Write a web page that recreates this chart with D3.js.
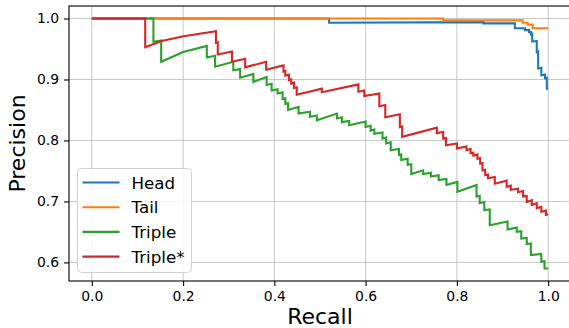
<!DOCTYPE html>
<html>
<head>
<meta charset="utf-8">
<script src="https://cdn.jsdelivr.net/npm/d3@7"></script>
<style>
  html, body { margin: 0; padding: 0; background: #fff; }
  svg { display: block; font-family: "DejaVu Sans", sans-serif; }
</style>
</head>
<body>
<div id="chart"></div>
<script>
// Precision-recall curves, values
const seriesNames = ["Head", "Tail", "Triple", "Triple*"];
const seriesColors = ["#1f77b4", "#ff7f0e", "#2ca02c", "#d62728"];

const headRecall = [0, 0.520, 0.520, 0.858, 0.858, 0.927, 0.927, 0.949, 0.949, 0.958, 0.958, 0.962, 0.962, 0.965, 0.965,
  0.975, 0.975, 0.978, 0.978, 0.985, 0.985, 0.993, 0.993, 0.997, 0.997, 1.0];
const headPrecision = [1.0, 1.0, 0.993, 0.994, 0.992, 0.992, 0.984, 0.984, 0.981, 0.981, 0.978, 0.978, 0.974, 0.975, 0.962,
  0.963, 0.945, 0.946, 0.918, 0.919, 0.907, 0.908, 0.902, 0.903, 0.885, 0.885];

const tailRecall = [0, 0.770, 0.770, 0.944, 0.944, 0.955, 0.955, 0.966, 0.966, 1.0];
const tailPrecision = [1.0, 1.0, 0.997, 0.997, 0.993, 0.993, 0.990, 0.990, 0.984, 0.984];

const tripleRecall = [0, 0.135, 0.135, 0.152, 0.152, 0.200, 0.252, 0.252, 0.270, 0.270, 0.310, 0.310, 0.325, 0.325,
  0.354, 0.354, 0.383, 0.383, 0.394, 0.394, 0.407, 0.407, 0.418, 0.418, 0.424, 0.424, 0.430, 0.430, 0.453, 0.453,
  0.478, 0.478, 0.493, 0.493, 0.537, 0.537, 0.548, 0.548, 0.564, 0.564, 0.600, 0.600, 0.611, 0.611, 0.619, 0.619,
  0.637, 0.637, 0.645, 0.645, 0.655, 0.655, 0.673, 0.673, 0.678, 0.678, 0.692, 0.692, 0.700, 0.700, 0.726, 0.726,
  0.743, 0.743, 0.760, 0.760, 0.777, 0.777, 0.801, 0.801, 0.843, 0.843, 0.850, 0.850, 0.860, 0.860, 0.872, 0.872,
  0.911, 0.911, 0.931, 0.931, 0.941, 0.941, 0.953, 0.953, 0.962, 0.962, 0.985, 0.985, 0.992, 0.992, 1.0];
const triplePrecision = [1.0, 1.0, 0.962, 0.964, 0.929, 0.945, 0.955, 0.936, 0.939, 0.921, 0.929, 0.915, 0.917, 0.903,
  0.909, 0.896, 0.904, 0.891, 0.893, 0.882, 0.884, 0.877, 0.879, 0.868, 0.869, 0.860, 0.861, 0.850, 0.855, 0.844,
  0.847, 0.839, 0.841, 0.833, 0.844, 0.836, 0.838, 0.830, 0.832, 0.825, 0.831, 0.822, 0.824, 0.816, 0.818, 0.811,
  0.813, 0.803, 0.805, 0.795, 0.797, 0.784, 0.786, 0.776, 0.777, 0.768, 0.770, 0.760, 0.761, 0.745, 0.751, 0.745,
  0.747, 0.741, 0.743, 0.735, 0.737, 0.727, 0.732, 0.716, 0.727, 0.708, 0.709, 0.697, 0.699, 0.686, 0.687, 0.661,
  0.667, 0.654, 0.657, 0.650, 0.651, 0.639, 0.640, 0.630, 0.631, 0.612, 0.614, 0.601, 0.602, 0.590, 0.590];

const tripleStarRecall = [0, 0.117, 0.117, 0.153, 0.201, 0.272, 0.272, 0.276, 0.276, 0.307, 0.307, 0.336, 0.336, 0.382, 0.382,
  0.420, 0.420, 0.424, 0.424, 0.432, 0.432, 0.437, 0.437, 0.443, 0.443, 0.449, 0.449, 0.504, 0.504, 0.584, 0.584,
  0.597, 0.597, 0.630, 0.630, 0.643, 0.643, 0.675, 0.675, 0.680, 0.680, 0.756, 0.756, 0.770, 0.770, 0.776, 0.776,
  0.800, 0.800, 0.821, 0.821, 0.830, 0.830, 0.836, 0.836, 0.845, 0.845, 0.851, 0.851, 0.856, 0.856, 0.862, 0.862,
  0.868, 0.868, 0.883, 0.883, 0.909, 0.909, 0.918, 0.918, 0.934, 0.934, 0.945, 0.945, 0.953, 0.953, 0.964, 0.964,
  0.975, 0.975, 0.985, 0.985, 0.995, 0.995, 1.0];
const tripleStarPrecision = [1.0, 1.0, 0.953, 0.963, 0.971, 0.979, 0.960, 0.961, 0.941, 0.946, 0.929, 0.934, 0.920, 0.929, 0.916,
  0.923, 0.913, 0.914, 0.906, 0.908, 0.899, 0.900, 0.893, 0.895, 0.886, 0.887, 0.875, 0.885, 0.879, 0.892, 0.880,
  0.882, 0.873, 0.877, 0.856, 0.858, 0.838, 0.843, 0.822, 0.823, 0.806, 0.821, 0.812, 0.814, 0.803, 0.804, 0.792,
  0.795, 0.787, 0.790, 0.784, 0.786, 0.779, 0.780, 0.775, 0.777, 0.770, 0.771, 0.762, 0.763, 0.751, 0.752, 0.743,
  0.744, 0.738, 0.740, 0.729, 0.734, 0.724, 0.726, 0.719, 0.721, 0.715, 0.717, 0.708, 0.709, 0.699, 0.702, 0.694,
  0.697, 0.689, 0.691, 0.683, 0.685, 0.678, 0.679];

const xTicks = [0.0, 0.2, 0.4, 0.6, 0.8, 1.0];
const yTicks = [0.6, 0.7, 0.8, 0.9, 1.0];

const recallLists = [headRecall, tailRecall, tripleRecall, tripleStarRecall];
const precisionLists = [headPrecision, tailPrecision, triplePrecision, tripleStarPrecision];

const width = 569, height = 328;
const margin = { left: 69, top: 6, right: -2, bottom: 47 };
const innerWidth = width - margin.left - margin.right;
const innerHeight = height - margin.top - margin.bottom;

const svg = d3.select("#chart").append("svg")
  .attr("width", width)
  .attr("height", height);

const g = svg.append("g").attr("transform", `translate(${margin.left},${margin.top})`);

const x = d3.scaleLinear().domain([-0.05, 1.05]).range([0, innerWidth]);
const y = d3.scaleLinear().domain([0.5695, 1.0205]).range([innerHeight, 0]);

// grid
g.append("g")
  .selectAll("line")
  .data(xTicks)
  .join("line")
  .attr("x1", d => x(d)).attr("x2", d => x(d))
  .attr("y1", 0).attr("y2", innerHeight)
  .attr("stroke", "#b0b0b0").attr("stroke-width", 1).attr("stroke-opacity", 0.7);
g.append("g")
  .selectAll("line")
  .data(yTicks)
  .join("line")
  .attr("x1", 0).attr("x2", innerWidth)
  .attr("y1", d => y(d)).attr("y2", d => y(d))
  .attr("stroke", "#b0b0b0").attr("stroke-width", 1).attr("stroke-opacity", 0.7);

// curves
g.append("defs").append("clipPath").attr("id", "clip")
  .append("rect").attr("width", innerWidth).attr("height", innerHeight);

const line = d3.line().x(d => x(d[0])).y(d => y(d[1]));

seriesNames.forEach((name, i) => {
  const pts = recallLists[i].map((r, k) => [r, precisionLists[i][k]]);
  g.append("path")
    .datum(pts)
    .attr("clip-path", "url(#clip)")
    .attr("fill", "none")
    .attr("stroke", seriesColors[i])
    .attr("stroke-width", 2.1)
    .attr("stroke-linejoin", "miter")
    .attr("d", line);
});

// axes
const xAxis = g.append("g")
  .attr("transform", `translate(0,${innerHeight})`)
  .call(d3.axisBottom(x).tickValues(xTicks).tickFormat(d3.format(".1f")).tickSizeOuter(0).tickSize(5).tickPadding(5));
const yAxis = g.append("g")
  .call(d3.axisLeft(y).tickValues(yTicks).tickFormat(d3.format(".1f")).tickSizeOuter(0).tickSize(5).tickPadding(5));

[xAxis, yAxis].forEach(ax => {
  ax.select(".domain").remove();
  ax.selectAll("line").attr("stroke", "#000").attr("stroke-width", 1.1);
  ax.selectAll("text").attr("fill", "#000")
    .style("font-size", "13.9px").style("font-family", "DejaVu Sans");
});

// frame
g.append("rect")
  .attr("width", innerWidth).attr("height", innerHeight)
  .attr("fill", "none").attr("stroke", "#000").attr("stroke-width", 1.1);

// axis labels
svg.append("text")
  .attr("x", margin.left + innerWidth / 2)
  .attr("y", 324)
  .attr("text-anchor", "middle")
  .style("font-size", "22px")
  .text("Recall");

svg.append("text")
  .attr("transform", `translate(25,${margin.top + innerHeight / 2}) rotate(-90)`)
  .attr("text-anchor", "middle")
  .style("font-size", "22px")
  .text("Precision");

// legend
const legend = g.append("g").attr("transform", `translate(${77.5 - margin.left},${168.5 - margin.top})`);
legend.append("rect")
  .attr("width", 114).attr("height", 104).attr("rx", 4)
  .attr("fill", "#fff").attr("fill-opacity", 0.8)
  .attr("stroke", "#d0d0d0").attr("stroke-width", 1);

seriesNames.forEach((name, i) => {
  const row = legend.append("g").attr("transform", `translate(0,${14 + i * 24.7})`);
  row.append("line")
    .attr("x1", 5).attr("x2", 42)
    .attr("stroke", seriesColors[i]).attr("stroke-width", 2.1);
  row.append("text")
    .attr("x", 54).attr("dy", "0.36em")
    .style("font-size", "16.7px")
    .text(name);
});
</script>
</body>
</html>
